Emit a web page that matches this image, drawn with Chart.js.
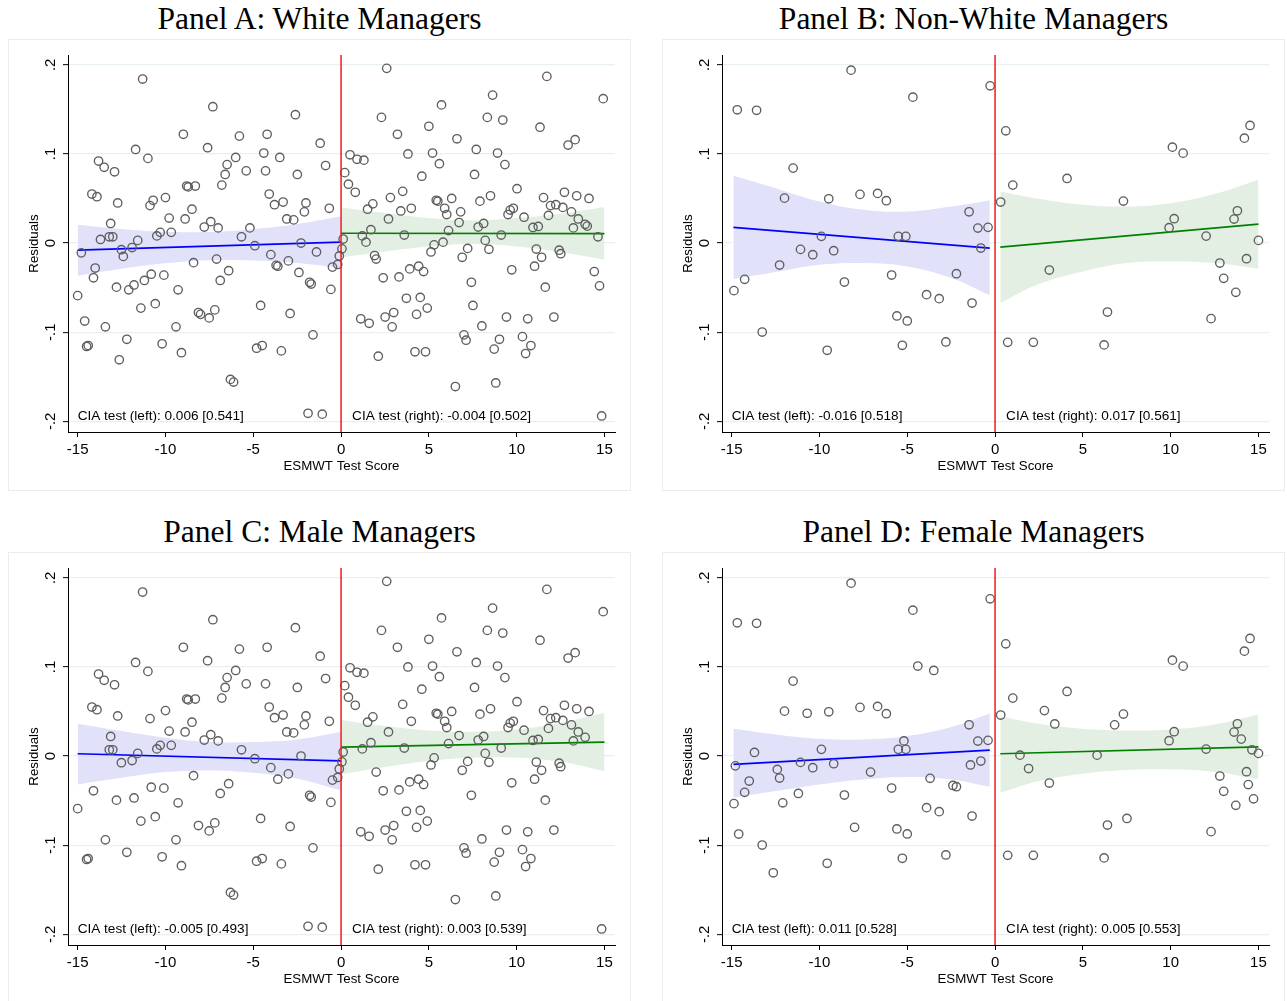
<!DOCTYPE html>
<html>
<head>
<meta charset="utf-8">
<script src="https://cdn.jsdelivr.net/npm/chart.js@4.4.1/dist/chart.umd.min.js"></script>
<style>
  html, body { margin: 0; padding: 0; background: #fff; width: 1287px; height: 1001px; overflow: hidden; }
  body { position: relative; }
  .title {
    position: absolute; width: 623px; text-align: center; white-space: nowrap;
    font-family: "Liberation Serif", "DejaVu Serif", serif; font-size: 31.5px; line-height: 36px; color: #000;
  }
  canvas { position: absolute; }
</style>
</head>
<body>
<div class="title" id="title0" style="left:8px; top:1px;"></div>
<div class="title" id="title1" style="left:662px; top:1px;"></div>
<div class="title" id="title2" style="left:8px; top:514px;"></div>
<div class="title" id="title3" style="left:662px; top:514px;"></div>
<canvas id="panel0" width="623" height="452" style="left:8px; top:39px;"></canvas>
<canvas id="panel1" width="623" height="452" style="left:662px; top:39px;"></canvas>
<canvas id="panel2" width="623" height="452" style="left:8px; top:552px;"></canvas>
<canvas id="panel3" width="623" height="452" style="left:662px; top:552px;"></canvas>
<script>
// ---- axis ticks ----
const xTicks = [-15, -10, -5, 0, 5, 10, 15];
const yTicks = [0.2, 0.1, 0, -0.1, -0.2];
const yTickLabels = ['.2', '.1', '0', '-.1', '-.2'];
const xMin = -15.55, xMax = 15.6, yMin = -0.212, yMax = 0.211;

// ---- panel text ----
const panelTitles = ['Panel A: White Managers', 'Panel B: Non-White Managers', 'Panel C: Male Managers', 'Panel D: Female Managers'];
const ciaLeft  = ['0.006 [0.541]', '-0.016 [0.518]', '-0.005 [0.493]', '0.011 [0.528]'];
const ciaRight = ['-0.004 [0.502]', '0.017 [0.561]', '0.003 [0.539]', '0.005 [0.553]'];

// ---- residuals (test score, residual) ----
// white male managers (panels A and C)
const pointsAC = [
  [-15.0,-0.059],[-14.49,-0.116],[-14.4,-0.115],[-14.19,0.055],[-13.9,0.052],[-14.1,-0.039],[-13.81,0.092],[-13.49,0.085],
  [-13.42,-0.094],[-13.12,0.022],[-13.2,0.007],[-13.0,0.007],[-12.9,0.080],[-12.79,-0.0495],[-12.72,0.045],[-12.51,-0.0075],
  [-12.2,-0.108],[-11.9,-0.005],[-11.79,-0.047],[-11.7,0.105],[-11.58,0.003],[-11.3,0.184],[-11.4,-0.073],[-11.0,0.095],
  [-10.88,0.042],[-10.81,-0.035],[-10.58,-0.068],[-10.49,0.008],[-10.3,0.012],[-10.19,-0.113],[-10.09,-0.036],[-10.0,0.051],
  [-9.79,0.028],[-9.67,0.012],[-9.4,-0.094],[-9.28,-0.0525],[-9.09,-0.123],[-8.98,0.122],[-8.88,0.027],[-8.79,0.064],
  [-8.7,0.063],[-8.49,0.038],[-8.4,-0.022],[-8.3,0.064],[-8.12,-0.078],[-7.79,0.018],[-7.6,0.107],[-7.51,-0.084],
  [-7.42,0.024],[-7.3,0.153],[-7.19,-0.075],[-7.0,0.017],[-6.88,-0.042],[-6.79,0.065],[-6.6,0.077],[-6.49,0.088],
  [-6.4,-0.031],[-6.3,-0.153],[-6.12,-0.156],[-6.0,0.096],[-5.79,0.120],[-5.67,0.007],[-5.4,0.081],[-4.91,-0.003],
  [-4.81,-0.118],[-4.58,-0.070],[-4.49,-0.115],[-4.3,0.081],[-4.21,0.122],[-4.09,0.055],[-4.0,-0.013],[-3.79,0.043],
  [-3.6,-0.026],[-3.4,-0.121],[-3.3,0.046],[-3.09,0.027],[-3.0,-0.020],[-2.9,-0.079],[-2.7,0.026],[-2.6,0.144],
  [-2.49,0.077],[-2.28,0.0],[-2.09,0.035],[-2.0,0.045],[-1.79,-0.044],[-1.7,-0.046],[-1.6,-0.103],[-1.19,0.112],
  [-0.88,0.087],[-0.67,0.039],[-0.58,-0.052],[-0.49,-0.027],[-0.19,-0.024],[-0.1,-0.0145],[-1.88,-0.191],[-1.07,-0.192],
  [0.05,-0.0065],[0.12,0.0045],[0.21,0.079],[0.42,0.066],[0.51,0.099],[0.81,0.057],[0.91,0.094],[1.3,0.093],
  [1.12,-0.085],[1.21,0.008],[1.51,0.038],[1.6,-0.090],[1.7,0.015],[1.81,0.044],[2.0,-0.018],[2.12,-0.127],
  [2.3,0.141],[2.4,-0.039],[2.51,-0.083],[2.6,0.196],[2.7,0.027],[2.91,-0.094],[3.0,-0.078],[3.21,0.122],
  [3.3,-0.038],[3.51,0.058],[3.6,0.009],[3.72,-0.062],[3.81,0.100],[3.91,-0.029],[4.0,0.039],[4.21,-0.122],
  [4.3,-0.080],[4.42,-0.026],[4.51,-0.061],[4.6,0.075],[4.7,-0.032],[4.81,-0.122],[4.91,-0.073],[5.0,0.131],
  [5.12,-0.010],[5.21,0.101],[5.3,-0.002],[5.42,0.048],[5.51,0.047],[5.6,0.089],[5.72,0.155],[5.9,0.039],
  [6.02,0.032],[6.12,0.014],[6.3,0.050],[6.51,-0.161],[6.6,0.117],[6.72,0.023],[6.9,-0.016],[7.0,-0.103],
  [7.12,-0.109],[7.21,-0.006],[7.42,-0.044],[7.6,0.077],[7.7,0.105],[7.81,0.018],[7.91,0.047],[8.02,-0.093],
  [8.12,0.022],[8.21,0.003],[8.33,0.141],[8.42,-0.007],[8.51,0.053],[8.63,0.166],[8.72,-0.119],[8.81,-0.157],
  [8.91,0.101],[9.02,-0.108],[9.12,0.009],[9.21,0.138],[9.33,0.088],[9.42,-0.083],[9.51,0.032],[9.63,0.037],
  [9.72,-0.030],[9.81,0.039],[10.02,0.061],[10.33,-0.105],[10.42,0.029],[10.51,-0.124],[10.63,-0.085],[10.81,-0.115],
  [10.93,0.0175],[11.02,-0.026],[11.12,-0.0067],[11.23,0.0186],[11.33,0.130],[11.42,-0.016],[11.53,0.051],[11.63,-0.0495],
  [11.72,0.187],[11.81,0.031],[11.93,0.042],[12.12,-0.083],[12.23,0.043],[12.42,-0.008],[12.51,-0.012],[12.63,0.040],
  [12.72,0.057],[12.93,0.110],[13.12,0.035],[13.23,0.017],[13.33,0.116],[13.42,0.053],[13.51,0.027],[13.9,0.021],
  [14.12,0.050],[14.84,-0.194],[14.93,0.162]
];
// white female managers (panels A and D)
const pointsAD = [
  [-14.79,-0.011],[-14.6,-0.0875],[-14.0,-0.028],[-13.7,0.004],[-12.63,-0.131],[-12.4,-0.015],[-12.09,-0.0525],[-11.2,-0.042],
  [-10.7,0.048],[-8.0,-0.080],[-7.09,-0.018],[-5.19,0.017],[-4.4,0.101],[-3.7,-0.025],[-3.49,0.096],[-2.4,-0.033],
  [-1.4,-0.010],[1.42,0.001],[1.91,-0.014],[2.81,0.051],[3.4,0.036],[5.81,0.001],[6.81,0.035],[7.51,-0.070],
  [14.02,0.019],[14.42,-0.032],[14.63,0.007],[14.72,-0.048]
];
// non-white female managers (panels B and D)
const pointsBD = [
  [-14.87,-0.0534],[-14.68,0.1495],[-14.26,-0.0407],[-13.58,0.149],[-13.26,-0.0998],[-12.27,-0.0247],[-11.99,0.0504],[-11.5,0.0841],
  [-11.08,-0.0071],[-10.38,-0.0131],[-9.89,0.0075],[-9.56,-0.1203],[-9.47,0.0497],[-9.19,-0.0086],[-8.58,-0.0437],[-8.2,0.194],
  [-7.69,0.0546],[-6.69,0.0557],[-6.19,0.0475],[-5.89,-0.0359],[-5.59,-0.0818],[-5.51,0.0075],[-5.28,-0.1147],[-5.08,0.0075],
  [-5.0,-0.0874],[-4.68,0.1637],[-3.9,-0.0579],[-3.18,-0.0624],[-2.8,-0.111],[-2.2,-0.0344],[-1.48,0.0351],[-1.31,-0.0673],
  [-0.98,0.0168],[-0.81,-0.0056],[-0.4,0.0176],[-0.28,0.1764],
  [0.32,0.046],[0.61,0.1259],[0.72,-0.1114],[1.01,0.065],[2.18,-0.1114],[3.09,-0.0303],[4.1,0.0725],[6.21,-0.1143],
  [6.4,-0.0774],[7.31,0.0471],[9.91,0.0172],[10.1,0.1076],[10.2,0.0273],[10.71,0.1009],[12.02,0.0078],[12.3,-0.0848],
  [12.8,-0.0224],[13.02,-0.0396],[13.61,0.0269],[13.71,-0.0553],[13.8,0.0362],[14.2,0.1177],[14.32,-0.0176],[14.52,0.1319],
  [15.0,0.003]
];

// ---- linear fits (endpoints) ----
const fitLeft  = [ [[-15,-0.008],[0,0.001]], [[-14.9,0.0175],[-0.3,-0.0056]], [[-15,0.0026],[0,-0.0053]], [[-14.9,-0.0094],[-0.3,0.0067]] ];
const fitRight = [ [[0,0.011],[15,0.0105]],  [[0.3,-0.0045],[15,0.0213]],   [[0,0.0101],[15,0.0157]], [[0.3,0.0026],[15,0.0104]] ];

// ---- 95% confidence bands ----
const bandXLeft  = [ [-15,-12.5,-10,-7.5,-5,-2.5,0], [-14.9,-12.5,-10,-7.5,-5,-2.5,-0.3], [-15,-12.5,-10,-7.5,-5,-2.5,0], [-14.9,-12.5,-10,-7.5,-5,-2.5,-0.3] ];
const bandXRight = [ [0,2.5,5,7.5,10,12.5,15], [0.3,2.5,5,7.5,10,12.5,15], [0,2.5,5,7.5,10,12.5,15], [0.3,2.5,5,7.5,10,12.5,15] ];
const bandUpLeft = [
  [0.0206,0.0158,0.0128,0.0124,0.0155,0.0213,0.030],
  [0.0754,0.0616,0.0466,0.0373,0.0354,0.041,0.0478],
  [0.0362,0.028,0.0205,0.0157,0.0157,0.0186,0.0272],
  [0.0306,0.0242,0.0194,0.0186,0.0224,0.0325,0.0478]
];
const bandLoLeft = [
  [-0.0366,-0.0288,-0.0228,-0.0194,-0.0195,-0.0223,-0.028],
  [-0.0404,-0.0325,-0.0243,-0.0224,-0.0262,-0.0392,-0.0587],
  [-0.0318,-0.0243,-0.018,-0.0161,-0.0187,-0.0254,-0.0385],
  [-0.0467,-0.0392,-0.0318,-0.0262,-0.0235,-0.0262,-0.0344]
];
const bandUpRight = [
  [0.0399,0.0336,0.028,0.0253,0.028,0.0328,0.0404],
  [0.0579,0.0497,0.043,0.041,0.0448,0.055,0.071],
  [0.0404,0.0336,0.0287,0.0272,0.0298,0.0373,0.0485],
  [0.0448,0.0362,0.0306,0.0287,0.0298,0.0354,0.0466]
];
const bandLoRight = [
  [-0.0161,-0.0094,-0.0038,-0.0011,-0.0038,-0.0101,-0.0187],
  [-0.0673,-0.046,-0.0318,-0.0224,-0.0206,-0.0224,-0.0288],
  [-0.0206,-0.0123,-0.0056,-0.0019,-0.0019,-0.0064,-0.0168],
  [-0.0411,-0.028,-0.0198,-0.0157,-0.015,-0.0176,-0.0262]
];

const panelPoints = [
  pointsAC.concat(pointsAD),
  pointsBD,
  pointsAC,
  pointsAD.concat(pointsBD)
];

const FONT = '"Liberation Sans", Arial, Helvetica, sans-serif';
Chart.defaults.font.family = FONT;

const toXY = arr => arr.map(p => ({ x: p[0], y: p[1] }));
const zipXY = (xs, ys) => xs.map((x, i) => ({ x, y: ys[i] }));

// axis labels, rotated y tick labels, test statistics and frame
const panelDecor = {
  id: 'panelDecor',
  beforeDraw(chart) {
    const ctx = chart.ctx;
    ctx.save();
    ctx.fillStyle = '#fff';
    ctx.fillRect(0, 0, chart.width, chart.height);
    ctx.strokeStyle = '#ececec';
    ctx.lineWidth = 1;
    ctx.strokeRect(0.5, 0.5, chart.width - 1, chart.height - 1);
    ctx.restore();
  },
  afterDraw(chart, args, opts) {
    const ctx = chart.ctx;
    const area = chart.chartArea;
    const xs = chart.scales.x, ys = chart.scales.y;
    ctx.save();
    ctx.fillStyle = '#000';

    // y tick labels, rotated to read upward
    ctx.font = '15px ' + FONT;
    ctx.textAlign = 'center';
    ctx.textBaseline = 'alphabetic';
    yTicks.forEach((v, i) => {
      ctx.save();
      ctx.translate(area.left - 13, ys.getPixelForValue(v));
      ctx.rotate(-Math.PI / 2);
      ctx.fillText(yTickLabels[i], 0, 0);
      ctx.restore();
    });

    // y axis title
    ctx.font = '13.3px ' + FONT;
    ctx.save();
    ctx.translate(area.left - 30.5, (area.top + area.bottom) / 2);
    ctx.rotate(-Math.PI / 2);
    ctx.fillText('Residuals', 0, 0);
    ctx.restore();

    // x axis title
    ctx.fillText('ESMWT Test Score', (area.left + area.right) / 2, area.bottom + 38);

    // test statistics
    ctx.font = '13.6px ' + FONT;
    ctx.textAlign = 'left';
    ctx.fillText('CIA test (left): ' + opts.left, xs.getPixelForValue(-15), area.bottom - 12);
    ctx.fillText('CIA test (right): ' + opts.right, xs.getPixelForValue(0) + 11, area.bottom - 12);
    ctx.restore();
  }
};

function buildPanel(i) {
  document.getElementById('title' + i).textContent = panelTitles[i];
  const ctx = document.getElementById('panel' + i).getContext('2d');
  const bandBase = { pointRadius: 0, borderWidth: 0, borderColor: 'rgba(0,0,0,0)', tension: 0.4, order: 3 };
  const datasets = [
    Object.assign({ data: zipXY(bandXLeft[i], bandUpLeft[i]), fill: '+1', backgroundColor: '#e1e1fa' }, bandBase),
    Object.assign({ data: zipXY(bandXLeft[i], bandLoLeft[i]), fill: false }, bandBase),
    Object.assign({ data: zipXY(bandXRight[i], bandUpRight[i]), fill: '+1', backgroundColor: '#e3efe3' }, bandBase),
    Object.assign({ data: zipXY(bandXRight[i], bandLoRight[i]), fill: false }, bandBase),
    { data: toXY(fitLeft[i]), borderColor: '#0000ff', borderWidth: 1.7, pointRadius: 0, fill: false, order: 2 },
    { data: toXY(fitRight[i]), borderColor: '#008000', borderWidth: 1.7, pointRadius: 0, fill: false, order: 2 },
    { data: toXY(panelPoints[i]), showLine: false, pointRadius: 4.2, pointBorderWidth: 1.35,
      pointBorderColor: '#5e5e5e', pointBackgroundColor: 'rgba(0,0,0,0)', order: 1 },
    { data: [{ x: 0, y: yMin }, { x: 0, y: yMax }], borderColor: '#f01c1c', borderWidth: 1.5, pointRadius: 0, fill: false, order: 0 }
  ];
  new Chart(ctx, {
    type: 'line',
    data: { datasets },
    plugins: [panelDecor],
    options: {
      responsive: false,
      animation: false,
      devicePixelRatio: 1,
      events: [],
      layout: { padding: { left: 0, right: 16, top: 16, bottom: 0 } },
      plugins: {
        legend: { display: false },
        tooltip: { enabled: false },
        panelDecor: { left: ciaLeft[i], right: ciaRight[i] }
      },
      scales: {
        x: {
          type: 'linear', min: xMin, max: xMax,
          afterBuildTicks: s => { s.ticks = xTicks.map(v => ({ value: v })); },
          afterFit: s => { s.height = 59; },
          ticks: { font: { size: 15 }, color: '#000', padding: 4, maxRotation: 0, minRotation: 0, autoSkip: false,
                   callback: v => String(v) },
          grid: { drawOnChartArea: false, drawTicks: true, tickLength: 5, tickColor: '#000', tickWidth: 1 },
          border: { display: true, color: '#000', width: 1 }
        },
        y: {
          type: 'linear', min: yMin, max: yMax,
          afterBuildTicks: s => { s.ticks = yTicks.map(v => ({ value: v })); },
          afterFit: s => { s.width = 60; },
          ticks: { display: false },
          grid: { color: '#e8f0f2', lineWidth: 1.3, drawTicks: true, tickLength: 5, tickColor: '#000', tickWidth: 1 },
          border: { display: true, color: '#000', width: 1 }
        }
      }
    }
  });
}

[0, 1, 2, 3].forEach(buildPanel);
</script>
</body>
</html>
